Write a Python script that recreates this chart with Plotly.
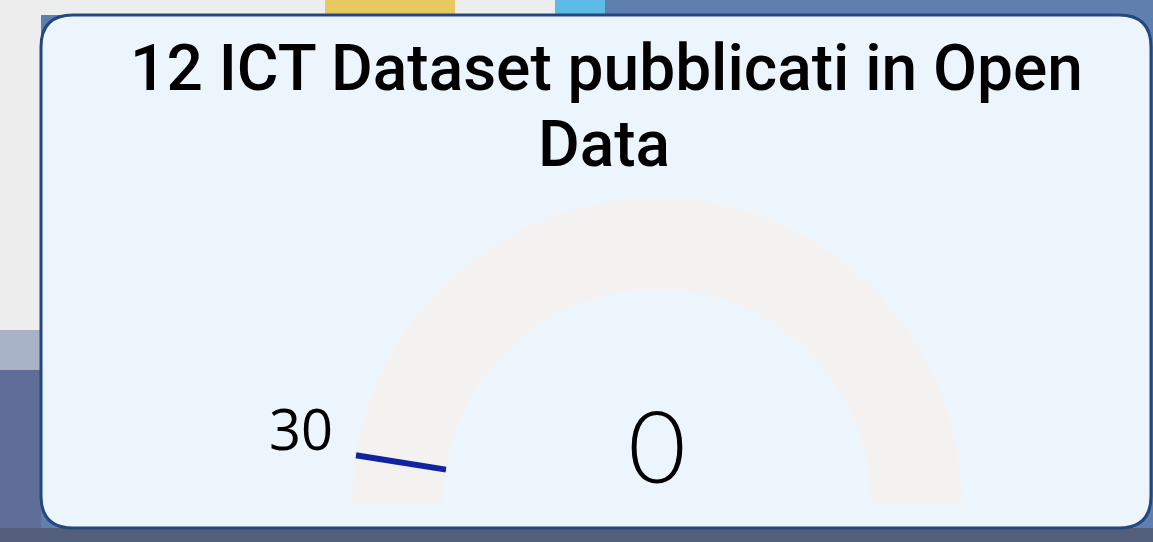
import plotly.graph_objects as go

# ---- data ----
title_line1 = "12 ICT Dataset pubblicati in Open"
title_line2 = "Data"
value = [0]
target = [30]
gauge_min = [0]
gauge_max = [600]

W, H = 1153, 542

def px(x):
    return x / W

def py(y):
    return 1 - y / H

fig = go.Figure()

span = gauge_max[0] - gauge_min[0]
val_deg = (value[0] - gauge_min[0]) / span * 180
tgt_deg = (target[0] - gauge_min[0]) / span * 180

# gauge background ring
fig.add_trace(go.Barpolar(
    r=[1], theta=[90], width=[180], base=[0],
    marker={"color": "#F3F2F1", "line": {"width": 0}},
    hoverinfo="skip", subplot="polar",
))
# value arc (0 -> empty)
if val_deg > 0:
    fig.add_trace(go.Barpolar(
        r=[1], theta=[val_deg / 2], width=[val_deg], base=[0],
        marker={"color": "#118DFF", "line": {"width": 0}},
        hoverinfo="skip", subplot="polar",
    ))
# target marker
fig.add_trace(go.Scatterpolar(
    r=[0, 1], theta=[tgt_deg, tgt_deg], mode="lines",
    line={"color": "#12239E", "width": 6}, hoverinfo="skip", subplot="polar",
))

# number
fig.add_trace(go.Indicator(
    mode="number",
    value=value[0],
    domain={"x": [px(557), px(757)], "y": [py(494), py(394)]},
    number={"font": {"family": "Lato, Roboto, sans-serif",
                     "size": 100, "color": "#000000", "weight": 300}},
))

fig.update_layout(
    polar=dict(
        domain={"x": [px(352), px(962)], "y": [py(503), py(198)]},
        sector=[0, 180],
        hole=0.70,
        bgcolor="rgba(0,0,0,0)",
        radialaxis=dict(range=[0, 1], visible=False, showgrid=False, showline=False, showticklabels=False),
        angularaxis=dict(direction="clockwise", rotation=180, visible=False, showgrid=False,
                         showline=False, showticklabels=False, ticks=""),
    )
)

shapes = []
bg = [
    (0, 0, 560, 15, "#EDEDED"),
    (325, 0, 455, 15, "#E8C860"),
    (555, 0, 605, 15, "#5CBCE6"),
    (0, 0, 41, 330, "#EDEDED"),
    (0, 330, 41, 370, "#A9B3C8"),
    (0, 370, 41, 528, "#5E6E98"),
    (0, 528, W, H, "#545F7C"),
]
for x0, y0, x1, y1, c in bg:
    shapes.append(dict(type="rect", xref="paper", yref="paper", x0=px(x0), x1=px(x1), y0=py(y1), y1=py(y0),
                       fillcolor=c, line={"width": 0}, layer="below"))

L, T, R, B, r = 41, 15, 1151, 528, 32
path = (f"M {px(L + r)},{py(T)} L {px(R - r)},{py(T)} Q {px(R)},{py(T)} {px(R)},{py(T + r)} "
        f"L {px(R)},{py(B - r)} Q {px(R)},{py(B)} {px(R - r)},{py(B)} "
        f"L {px(L + r)},{py(B)} Q {px(L)},{py(B)} {px(L)},{py(B - r)} "
        f"L {px(L)},{py(T + r)} Q {px(L)},{py(T)} {px(L + r)},{py(T)} Z")
shapes.append(dict(type="path", xref="paper", yref="paper", path=path, fillcolor="#EDF5FC",
                   line={"color": "#24487D", "width": 3}, layer="below"))

title_font = {"family": "Roboto, sans-serif", "size": 64, "color": "#000000", "weight": 500}
annotations = [
    dict(text=title_line1, xref="paper", yref="paper", x=px(606), y=py(108), xanchor="center", yanchor="bottom",
         showarrow=False, font=title_font),
    dict(text=title_line2, xref="paper", yref="paper", x=px(604), y=py(184), xanchor="center", yanchor="bottom",
         showarrow=False, font=title_font),
    dict(text=str(target[0]), xref="paper", yref="paper", x=px(335), y=py(468), xanchor="right", yanchor="bottom",
         showarrow=False, font={"family": "Open Sans, sans-serif", "size": 56, "color": "#000000"}),
]

fig.update_layout(
    width=W, height=H,
    margin=dict(l=0, r=0, t=0, b=0),
    paper_bgcolor="#5F80AE",
    plot_bgcolor="rgba(0,0,0,0)",
    shapes=shapes,
    annotations=annotations,
    showlegend=False,
)

fig.write_html("out.html", config={"displayModeBar": False},
               post_script="document.body.style.margin='0px';")
